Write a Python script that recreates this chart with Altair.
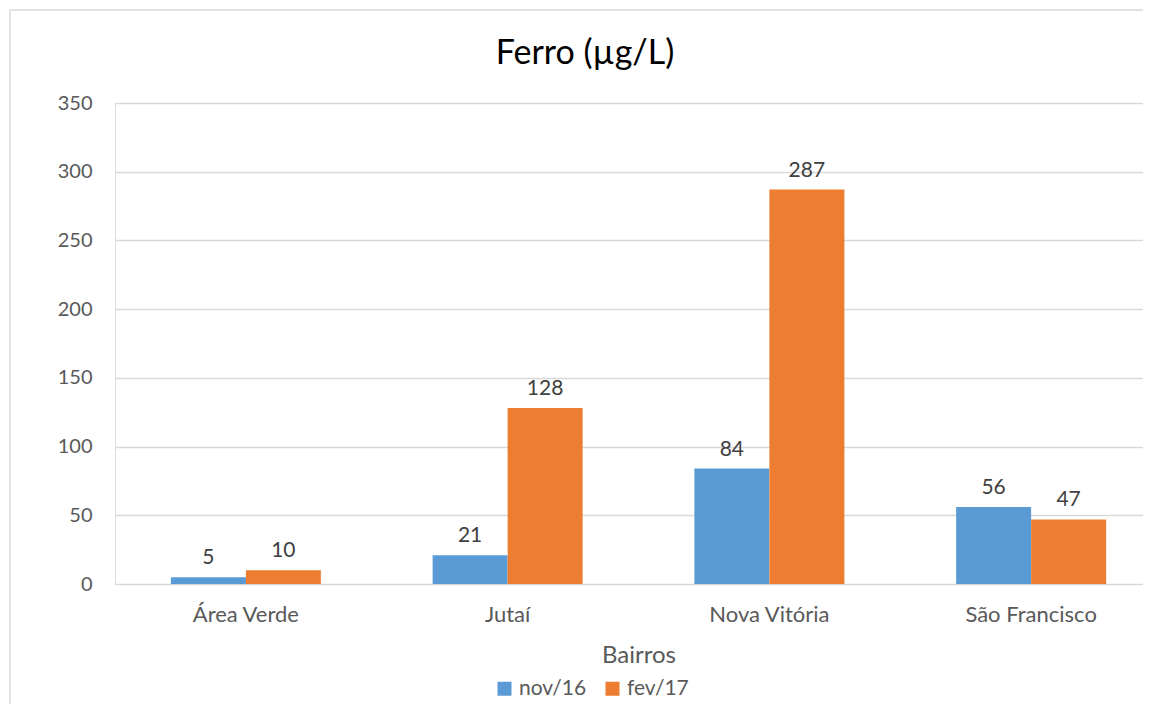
import altair as alt
import pandas as pd

bairros = ["Área Verde", "Jutaí", "Nova Vitória", "São Francisco"]
nov16 = [5, 21, 84, 56]
fev17 = [10, 128, 287, 47]
series = ["nov/16", "fev/17"]
colors = ["#5B9BD5", "#ED7D31"]
y_ticks = [0, 50, 100, 150, 200, 250, 300, 350]

rows = []
for i, b in enumerate(bairros):
    rows.append({"Bairro": b, "Periodo": series[0], "Valor": nov16[i]})
    rows.append({"Bairro": b, "Periodo": series[1], "Valor": fev17[i]})
df = pd.DataFrame(rows)

W = 1028
H = 481
FONT = "Lato"
GRAY = "#595959"

x_enc = alt.X(
    "Bairro:N",
    sort=bairros,
    scale=alt.Scale(range=[0, 1047], paddingInner=0, paddingOuter=0),
    axis=alt.Axis(
        title="Bairros", labelAngle=0, domain=False, ticks=False, grid=False,
        labelPadding=20, labelFontSize=22, labelColor=GRAY, labelFont=FONT,
        titleFontSize=24, titleColor=GRAY, titleFont=FONT, titleFontWeight="normal",
        titlePadding=18,
    ),
)
xoff_enc = alt.XOffset(
    "Periodo:N", sort=series,
    scale=alt.Scale(paddingOuter=0.745, paddingInner=0),
)
y_enc = alt.Y(
    "Valor:Q",
    scale=alt.Scale(domain=[0, 350], nice=False),
    axis=alt.Axis(
        title=None, values=y_ticks, domain=False, ticks=False,
        gridColor="#d9d9d9", gridWidth=1.3,
        labelPadding=23, labelFontSize=20, labelColor=GRAY, labelFont=FONT,
    ),
)

base = alt.Chart(df)

bars = base.mark_bar().encode(
    x=x_enc,
    xOffset=xoff_enc,
    y=y_enc,
    color=alt.Color(
        "Periodo:N", sort=series,
        scale=alt.Scale(domain=series, range=colors),
        legend=alt.Legend(
            title=None, orient="none", legendX=379, legendY=575,
            direction="horizontal", symbolType="square", symbolSize=196,
            symbolStrokeWidth=0, labelFontSize=21, labelColor=GRAY, labelFont=FONT,
            columnPadding=15, labelOffset=4,
        ),
    ),
)

labels = base.mark_text(
    baseline="alphabetic", dy=-13, fontSize=21, color="#404040", font=FONT
).encode(
    x=x_enc,
    xOffset=xoff_enc,
    y=y_enc,
    text=alt.Text("Valor:Q"),
)

frame_df = pd.DataFrame({"k": [0]})
top_line = alt.Chart(frame_df).mark_rule(color="#d9d9d9", strokeWidth=1.5).encode(
    x=alt.value(-105), x2=alt.value(1100), y=alt.value(-93)
)
left_line = alt.Chart(frame_df).mark_rule(color="#d9d9d9", strokeWidth=1.5).encode(
    x=alt.value(-105), y=alt.value(-93), y2=alt.value(700)
)

chart = alt.layer(top_line, left_line, bars, labels).properties(
    width=W,
    height=H,
    title=alt.TitleParams(
        "Ferro (µg/L)", fontSize=34, font=FONT, color="#000000",
        fontWeight="normal", anchor="middle", dx=-44, offset=-62,
    ),
    autosize=alt.AutoSizeParams(type="none"),
    padding={"left": 107, "top": 95, "right": 0, "bottom": 120},
).configure_view(stroke=None).configure(background="white")

chart.save("out.html", embed_options={"renderer": "svg", "actions": False})
